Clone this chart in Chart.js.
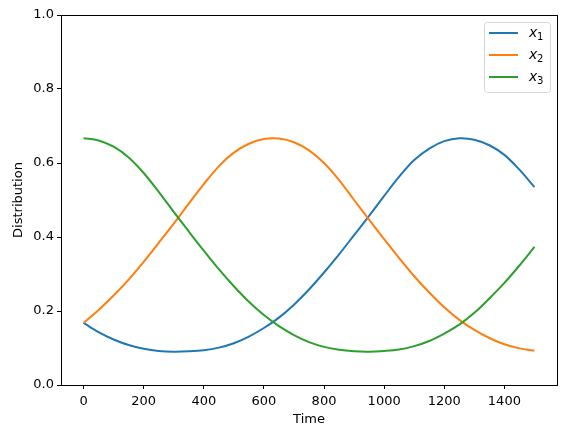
<!DOCTYPE html>
<html>
<head>
<meta charset="utf-8">
<script src="https://cdn.jsdelivr.net/npm/chart.js@4.4.1/dist/chart.umd.min.js"></script>
<style>
html,body{margin:0;padding:0;background:#fff;}
#wrap{width:567px;height:438px;position:relative;}
</style>
</head>
<body>
<div id="wrap"><canvas id="c" width="567" height="438"></canvas></div>
<script>
const times = [0,50,100,150,200,250,300,350,400,450,500,550,600,650,700,750,800,850,900,950,1000,1050,1100,1150,1200,1250,1300,1350,1400,1450,1500];
const x1 = [0.168,0.143,0.123,0.108,0.098,0.092,0.090,0.091,0.094,0.101,0.113,0.131,0.154,0.182,0.217,0.258,0.304,0.353,0.405,0.457,0.511,0.563,0.608,0.639,0.659,0.667,0.663,0.648,0.622,0.582,0.535];
const x2 = [0.168,0.203,0.242,0.285,0.333,0.384,0.436,0.490,0.543,0.591,0.628,0.652,0.665,0.666,0.656,0.634,0.600,0.554,0.500,0.447,0.394,0.343,0.294,0.250,0.210,0.176,0.149,0.127,0.110,0.099,0.093];
const x3 = [0.667,0.661,0.644,0.615,0.573,0.522,0.468,0.415,0.363,0.313,0.267,0.225,0.189,0.159,0.135,0.116,0.103,0.095,0.091,0.090,0.092,0.096,0.105,0.119,0.139,0.163,0.195,0.234,0.276,0.323,0.373];
const seriesNames = ["x1","x2","x3"];
const subscripts = ["1","2","3"];
const xTicks = [0,200,400,600,800,1000,1200,1400];
const yTicks = [0,0.2,0.4,0.6,0.8,1.0];
const colors = ["#1f77b4","#ff7f0e","#2ca02c"];

const FONT = "'DejaVu Sans', sans-serif";

function pts(arr){ return times.map((t,i)=>({x:t,y:arr[i]})); }

const frame = {
  id:'frame',
  afterDatasetsDraw(chart){
    const {ctx, chartArea:a} = chart;
    ctx.save();
    ctx.strokeStyle = '#000';
    ctx.lineWidth = 1;
    ctx.strokeRect(Math.round(a.left)+0.5, Math.round(a.top)+0.5, Math.round(a.right-a.left), Math.round(a.bottom-a.top));
    ctx.restore();
  }
};

const legendPlugin = {
  id:'mplLegend',
  afterDraw(chart){
    const ctx = chart.ctx;
    const a = chart.chartArea;
    const bw = 66, bh = 70;
    const bx = a.right - 7 - bw, by = a.top + 7;
    ctx.save();
    ctx.fillStyle = 'rgba(255,255,255,0.8)';
    ctx.strokeStyle = '#d6d6d6';
    ctx.lineWidth = 1;
    const r = 3;
    ctx.beginPath();
    ctx.moveTo(bx+r+0.5, by+0.5);
    ctx.lineTo(bx+bw-r+0.5, by+0.5);
    ctx.arcTo(bx+bw+0.5, by+0.5, bx+bw+0.5, by+r+0.5, r);
    ctx.lineTo(bx+bw+0.5, by+bh-r+0.5);
    ctx.arcTo(bx+bw+0.5, by+bh+0.5, bx+bw-r+0.5, by+bh+0.5, r);
    ctx.lineTo(bx+r+0.5, by+bh+0.5);
    ctx.arcTo(bx+0.5, by+bh+0.5, bx+0.5, by+bh-r+0.5, r);
    ctx.lineTo(bx+0.5, by+r+0.5);
    ctx.arcTo(bx+0.5, by+0.5, bx+r+0.5, by+0.5, r);
    ctx.closePath();
    ctx.fill();
    ctx.stroke();
    for(let i=0;i<3;i++){
      const y = by + 11 + i*22;
      ctx.strokeStyle = colors[i];
      ctx.lineWidth = 2;
      ctx.beginPath();
      ctx.moveTo(bx+5, y);
      ctx.lineTo(bx+34, y);
      ctx.stroke();
      ctx.fillStyle = '#000';
      ctx.textBaseline = 'alphabetic';
      ctx.textAlign = 'left';
      ctx.font = "italic 14px " + FONT;
      ctx.fillText(seriesNames[i].charAt(0), bx+45, y+4);
      ctx.font = "10px " + FONT;
      ctx.fillText(subscripts[i], bx+53, y+7);
    }
    ctx.restore();
  }
};

new Chart(document.getElementById('c'), {
  type:'line',
  data:{
    datasets:[0,1,2].map(i=>({
      label: seriesNames[i],
      data: pts([x1,x2,x3][i]),
      borderColor: colors[i],
      backgroundColor: colors[i],
      borderWidth: 2,
      pointRadius: 0,
      tension: 0.35,
      fill:false,
      order: 3-i
    }))
  },
  options:{
    responsive:false,
    animation:false,
    devicePixelRatio:1,
    layout:{padding:{left:0,top:15,right:10,bottom:0}},
    plugins:{legend:{display:false},tooltip:{enabled:false}},
    scales:{
      x:{
        type:'linear',
        min:-75, max:1575,
        afterBuildTicks(s){ s.ticks = xTicks.map(v=>({value:v})); },
        afterFit(s){ s.height = 53; },
        ticks:{color:'#000',font:{family:FONT,size:13},padding:5,maxRotation:0,autoSkip:false,
          callback:(v)=>String(v)},
        grid:{display:true,drawOnChartArea:false,drawTicks:true,tickLength:4,color:'#000',lineWidth:1},
        border:{display:true,color:'#000',width:1},
        title:{display:true,text:'Time',color:'#000',font:{family:FONT,size:13},padding:{top:2,bottom:11}}
      },
      y:{
        type:'linear',
        min:0,max:1,
        afterBuildTicks(s){ s.ticks = yTicks.map(v=>({value:v})); },
        afterFit(s){ s.width = 61; },
        ticks:{color:'#000',font:{family:FONT,size:13},padding:3,autoSkip:false,
          callback:(v)=>Number(v).toFixed(1)},
        grid:{display:true,drawOnChartArea:false,drawTicks:true,tickLength:4,color:'#000',lineWidth:1},
        border:{display:true,color:'#000',width:1},
        title:{display:true,text:'Distribution',color:'#000',font:{family:FONT,size:13},padding:{top:11,bottom:0}}
      }
    }
  },
  plugins:[frame, legendPlugin]
});
</script>
</body>
</html>
